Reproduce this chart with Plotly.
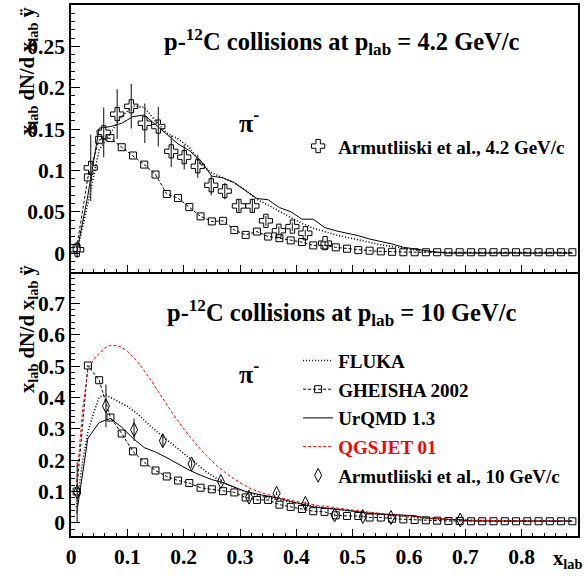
import plotly.graph_objects as go

# ---------------- data ----------------
BIN_X = [0.01, 0.03, 0.05, 0.07, 0.09, 0.11, 0.13, 0.15, 0.17, 0.19,
         0.21, 0.23, 0.25, 0.27, 0.29, 0.31, 0.33, 0.35, 0.37, 0.39,
         0.41, 0.43, 0.45, 0.47, 0.49, 0.51, 0.53, 0.55, 0.57, 0.59,
         0.61, 0.63, 0.65, 0.67, 0.69, 0.71, 0.73, 0.75, 0.77, 0.79,
         0.81, 0.83, 0.85, 0.87, 0.89]

# top panel: p-C at 4.2 GeV/c
gheisha_42 = [0.006, 0.0915, 0.137, 0.139, 0.128, 0.118, 0.107, 0.095, 0.0714, 0.0665,
              0.0556, 0.0444, 0.0383, 0.039, 0.0278, 0.022, 0.026, 0.020, 0.018, 0.0153,
              0.0133, 0.0093, 0.0093, 0.0069, 0.0053, 0.0036, 0.0029, 0.002, 0.0015, 0.001,
              0.001, 0.001, 0.001, 0.001, 0.001, 0.001, 0.001, 0.001, 0.001, 0.001,
              0.001, 0.001, 0.001, 0.001, 0.001]
urqmd_42 = [0.0, 0.07, 0.151, 0.153, 0.157, 0.165, 0.167, 0.155, 0.143, 0.132,
            0.124, 0.112, 0.093, 0.091, 0.085, 0.076, 0.066, 0.0645, 0.055, 0.050,
            0.041, 0.041, 0.031, 0.027, 0.024, 0.021, 0.017, 0.014, 0.011, 0.007,
            0.005, 0.003, 0.001, 0.0, 0.0, 0.0, 0.0, 0.0, 0.0, 0.0,
            0.0, 0.0, 0.0, 0.0, 0.0]
fluka_42 = [0.0, 0.06, 0.125, 0.145, 0.165, 0.178, 0.176, 0.16, 0.145, 0.138,
            0.128, 0.108, 0.097, 0.091, 0.085, 0.076, 0.065, 0.058, 0.050, 0.043,
            0.036, 0.030, 0.026, 0.022, 0.019, 0.016, 0.013, 0.010, 0.008, 0.006,
            0.004, 0.002, 0.001, 0.0, 0.0, 0.0, 0.0, 0.0, 0.0, 0.0,
            0.0, 0.0, 0.0, 0.0, 0.0]
armut_42_x = [0.011, 0.035, 0.058, 0.082, 0.107, 0.131, 0.155, 0.178, 0.201, 0.225,
              0.249, 0.273, 0.298, 0.322, 0.346, 0.369, 0.393, 0.416, 0.451]
armut_42_y = [0.004, 0.103, 0.146, 0.168, 0.1775, 0.157, 0.153, 0.123, 0.116, 0.105,
              0.082, 0.075, 0.057, 0.057, 0.039, 0.027, 0.032, 0.024, 0.012]
armut_42_err = [0.01, 0.04, 0.03, 0.03, 0.027, 0.024, 0.024, 0.019, 0.015, 0.014,
                0.012, 0.01, 0.008, 0.008, 0.006, 0.005, 0.005, 0.004, 0.003]

# bottom panel: p-C at 10 GeV/c
gheisha_10 = [0.100, 0.502, 0.455, 0.336, 0.285, 0.228, 0.193, 0.167, 0.148, 0.135,
              0.127, 0.112, 0.107, 0.101, 0.097, 0.081, 0.073, 0.073, 0.058, 0.051,
              0.044, 0.037, 0.035, 0.024, 0.022, 0.022, 0.017, 0.017, 0.013, 0.011,
              0.009, 0.008, 0.007, 0.006, 0.006, 0.005, 0.005, 0.005, 0.005, 0.005,
              0.005, 0.005, 0.005, 0.005, 0.005]
urqmd_10 = [0.03, 0.27, 0.32, 0.333, 0.305, 0.27, 0.24, 0.226, 0.208, 0.188,
            0.168, 0.152, 0.138, 0.128, 0.113, 0.10, 0.092, 0.085, 0.078, 0.068,
            0.059, 0.051, 0.047, 0.044, 0.040, 0.035, 0.030, 0.028, 0.027, 0.025,
            0.023, 0.015, 0.012, 0.011, 0.010, 0.006, 0.006, 0.006, 0.006, 0.006,
            0.006, 0.006, 0.006, 0.006, 0.006]
fluka_10_x = [0.01, 0.02, 0.03, 0.04, 0.05, 0.06, 0.07, 0.08, 0.10, 0.12,
              0.14, 0.16, 0.18, 0.20, 0.22, 0.24, 0.26, 0.28, 0.30, 0.32,
              0.35, 0.38, 0.41, 0.44, 0.47, 0.50, 0.53, 0.56, 0.59, 0.62,
              0.65, 0.68, 0.71, 0.75, 0.80, 0.85, 0.89]
fluka_10_y = [0.05, 0.19, 0.29, 0.35, 0.40, 0.41, 0.40, 0.39, 0.372, 0.345,
              0.31, 0.28, 0.25, 0.22, 0.19, 0.163, 0.14, 0.12, 0.105, 0.093,
              0.08, 0.07, 0.058, 0.05, 0.043, 0.037, 0.031, 0.026, 0.022, 0.017,
              0.013, 0.010, 0.008, 0.006, 0.005, 0.005, 0.005]
qgsjet_10_x = [0.01, 0.02, 0.03, 0.04, 0.05, 0.06, 0.07, 0.08, 0.09, 0.10,
               0.12, 0.14, 0.16, 0.18, 0.20, 0.22, 0.24, 0.26, 0.28, 0.30,
               0.32, 0.34, 0.36, 0.38, 0.40, 0.44, 0.48, 0.52, 0.56, 0.60,
               0.64, 0.68, 0.72, 0.78, 0.84, 0.89]
qgsjet_10_y = [0.13, 0.35, 0.49, 0.52, 0.54, 0.558, 0.566, 0.566, 0.56, 0.548,
               0.51, 0.46, 0.405, 0.35, 0.30, 0.255, 0.215, 0.18, 0.152, 0.128,
               0.108, 0.095, 0.085, 0.076, 0.068, 0.055, 0.045, 0.036, 0.028, 0.021,
               0.015, 0.011, 0.008, 0.006, 0.005, 0.005]
armut_10_x = [0.011, 0.062, 0.112, 0.163, 0.214, 0.266, 0.316, 0.365, 0.416, 0.468,
              0.518, 0.568, 0.691]
armut_10_y = [0.098, 0.373, 0.297, 0.262, 0.188, 0.132, 0.082, 0.094, 0.062, 0.025,
              0.02, 0.017, 0.009]
armut_10_err = [0.095, 0.068, 0.036, 0.02, 0.012, 0.008, 0.006, 0.006, 0.005, 0.004,
                0.003, 0.003, 0.002]

x_ticks = [0, 0.1, 0.2, 0.3, 0.4, 0.5, 0.6, 0.7, 0.8]
x_ticktext = ["0", "0.1", "0.2", "0.3", "0.4", "0.5", "0.6", "0.7", "0.8"]
y_top_ticks = [0, 0.05, 0.1, 0.15, 0.2, 0.25]
y_top_ticktext = ["0", "0.05", "0.1", "0.15", "0.2", "0.25"]
y_bot_ticks = [0, 0.1, 0.2, 0.3, 0.4, 0.5, 0.6, 0.7]
y_bot_ticktext = ["0", "0.1", "0.2", "0.3", "0.4", "0.5", "0.6", "0.7"]

# ---------------- style ----------------
SERIF = "Liberation Serif, Times New Roman, serif"
BLACK = "black"
RED = "#ff0000"

fig = go.Figure()

# top panel traces (xaxis2 / yaxis2)
fig.add_trace(go.Scatter(x=BIN_X, y=fluka_42, mode="lines", xaxis="x2", yaxis="y2",
                         line=dict(color=BLACK, width=1.6, dash="1px,2px"), showlegend=False))
fig.add_trace(go.Scatter(x=BIN_X, y=urqmd_42, mode="lines", xaxis="x2", yaxis="y2",
                         line=dict(color=BLACK, width=1), showlegend=False))
fig.add_trace(go.Scatter(x=BIN_X, y=gheisha_42, mode="lines+markers", xaxis="x2", yaxis="y2",
                         line=dict(color=BLACK, width=1, dash="3px,2px"),
                         marker=dict(symbol="square-open", size=7, color=BLACK, line=dict(width=1)),
                         showlegend=False))
fig.add_trace(go.Scatter(x=armut_42_x, y=armut_42_y, mode="markers", xaxis="x2", yaxis="y2",
                         error_y=dict(type="data", array=armut_42_err, color="#333333",
                                      thickness=1.2, width=0),
                         marker=dict(symbol="cross-open", size=11, color=BLACK, line=dict(width=1)),
                         name="Armutliiski et al., 4.2 GeV/c", legend="legend"))

# bottom panel traces
fig.add_trace(go.Scatter(x=fluka_10_x, y=fluka_10_y, mode="lines", name="FLUKA",
                         line=dict(color=BLACK, width=1.6, dash="1px,2px"),
                         legend="legend2", legendgroup="a"))
fig.add_trace(go.Scatter(x=BIN_X, y=gheisha_10, mode="lines+markers", name="GHEISHA 2002",
                         line=dict(color=BLACK, width=1, dash="3px,2px"),
                         marker=dict(symbol="square-open", size=7, color=BLACK, line=dict(width=1)),
                         legend="legend2", legendgroup="b"))
fig.add_trace(go.Scatter(x=BIN_X, y=urqmd_10, mode="lines", name="UrQMD 1.3",
                         line=dict(color=BLACK, width=1),
                         legend="legend2", legendgroup="c"))
fig.add_trace(go.Scatter(x=qgsjet_10_x, y=qgsjet_10_y, mode="lines",
                         name="<span style='color:#ff0000'>QGSJET 01</span>",
                         line=dict(color=RED, width=1, dash="3px,2px"),
                         legend="legend2", legendgroup="d"))
fig.add_trace(go.Scatter(x=armut_10_x, y=armut_10_y, mode="markers",
                         name="Armutliiski et al., 10 GeV/c",
                         error_y=dict(type="data", array=armut_10_err, color="#333333",
                                      thickness=1.2, width=0),
                         marker=dict(symbol="diamond-tall-open", size=10, color=BLACK, line=dict(width=1)),
                         legend="legend2", legendgroup="e"))

tickfont = dict(family=SERIF, size=21.5, color=BLACK, weight="bold")
common_x = dict(range=[0, 0.9], tickvals=x_ticks, ticktext=x_ticktext, ticks="inside",
                ticklen=7, tickwidth=1, tickcolor=BLACK, showline=True, linecolor=BLACK,
                linewidth=1.5, showgrid=False, zeroline=False,
                minor=dict(ticks="inside", ticklen=3.5, dtick=0.02, tickcolor=BLACK, showgrid=False),
                tickfont=tickfont)
common_y = dict(ticks="inside", ticklen=9, tickwidth=1, tickcolor=BLACK, showline=True,
                linecolor=BLACK, linewidth=1.5, mirror=True, showgrid=False, zeroline=False,
                tickfont=tickfont)

SPLIT = 0.497
fig.update_layout(
    width=585, height=577,
    margin=dict(l=71, r=7, t=3, b=41),
    paper_bgcolor="white", plot_bgcolor="white",
    xaxis=dict(**common_x, anchor="y", domain=[0, 1], mirror=False),
    yaxis=dict(**common_y, domain=[0, SPLIT], range=[-0.042, 0.8],
               tickvals=y_bot_ticks, ticktext=y_bot_ticktext,
               minor=dict(ticks="inside", ticklen=4.5, dtick=0.02, tickcolor=BLACK, showgrid=False)),
    xaxis2=dict(**common_x, anchor="y2", domain=[0, 1], showticklabels=False, matches="x",
                mirror=True),
    yaxis2=dict(**common_y, domain=[SPLIT, 1], range=[-0.023, 0.3],
                tickvals=y_top_ticks, ticktext=y_top_ticktext,
                minor=dict(ticks="inside", ticklen=4.5, dtick=0.01, tickcolor=BLACK, showgrid=False)),
    legend=dict(x=0.448, y=0.734, xanchor="left", yanchor="middle",
                bgcolor="rgba(0,0,0,0)", borderwidth=0,
                font=dict(family=SERIF, size=19, color=BLACK, weight="bold")),
    legend2=dict(x=0.448, y=0.366, xanchor="left", yanchor="top",
                 bgcolor="rgba(0,0,0,0)", borderwidth=0, tracegroupgap=1,
                 traceorder="grouped",
                 font=dict(family=SERIF, size=19, color=BLACK, weight="bold")),
)

title_font = dict(family=SERIF, size=24.5, color=BLACK, weight="bold")
pi_font = dict(family=SERIF, size=26, color=BLACK, weight="bold")
ylab_font = dict(family=SERIF, size=20.5, color=BLACK, weight="bold")
ytitle = "x<sub>lab</sub> dN/d x<sub>lab</sub> ÿ"
annots = [
    dict(text="p-<sup>12</sup>C collisions at p<sub>lab</sub> = 4.2 GeV/c", x=0.534, y=0.93,
         xanchor="center", yanchor="middle", font=title_font),
    dict(text="p-<sup>12</sup>C collisions at p<sub>lab</sub> = 10 GeV/c", x=0.534, y=0.42,
         xanchor="center", yanchor="middle", font=title_font),
    dict(text="π<sup>-</sup>", x=0.352, y=0.78, xanchor="center", yanchor="middle", font=pi_font),
    dict(text="π<sup>-</sup>", x=0.352, y=0.308, xanchor="center", yanchor="middle", font=pi_font),
    dict(text=ytitle, x=-0.085, y=1.0, xanchor="center", yanchor="top", textangle=-90, font=ylab_font),
    dict(text=ytitle, x=-0.085, y=0.514, xanchor="center", yanchor="top", textangle=-90, font=ylab_font),
    dict(text="x<sub>lab</sub>", x=1.012, y=-0.045, xanchor="right", yanchor="middle", font=ylab_font),
]
for a in annots:
    a.update(xref="paper", yref="paper", showarrow=False)
fig.update_layout(annotations=annots)

fig.write_html("out.html")
